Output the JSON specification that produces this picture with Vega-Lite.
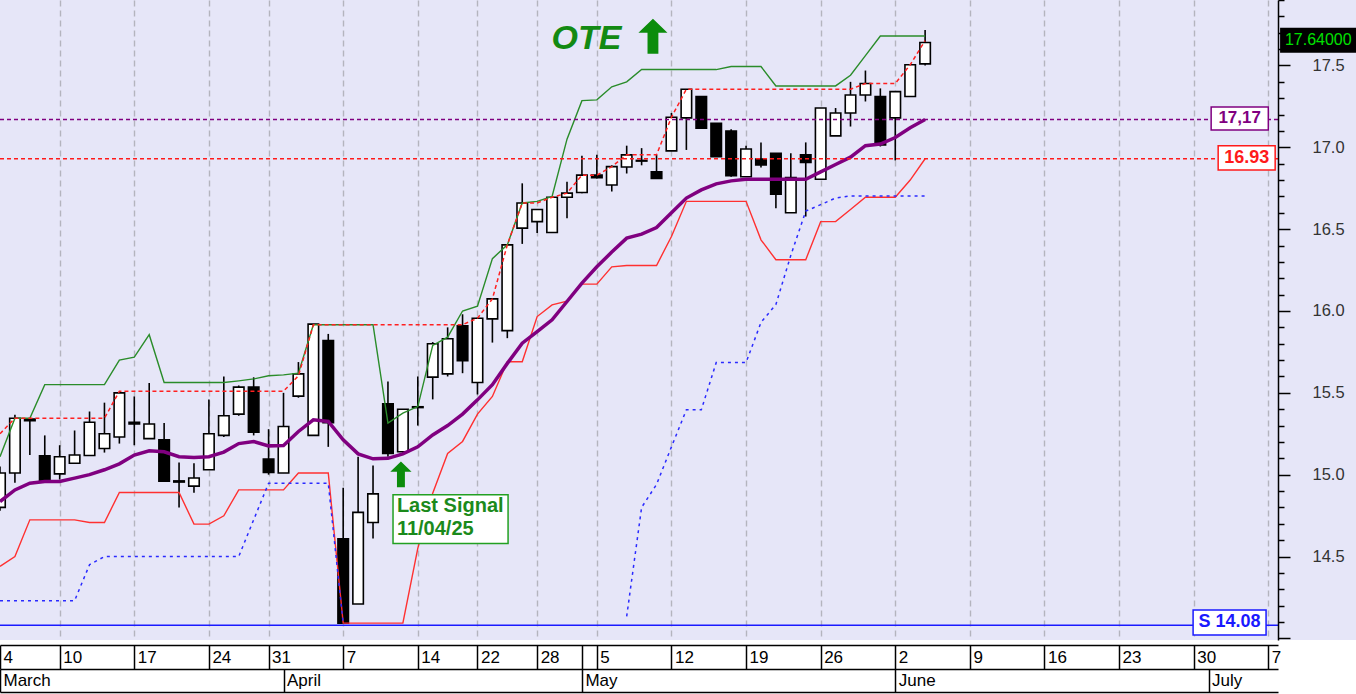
{
"$schema": "https://vega.github.io/schema/vega-lite/v6.json",
"width": 1278, "height": 640,
"autosize": {"type": "none"},
"padding": {"left": 0, "top": 0, "right": 78, "bottom": 54},
"background": "white",
"view": {"fill": "#e6e6f8", "stroke": null},
"config": {"font": "Liberation Sans"},
"datasets": {
"candles": [
{"i":0,"o":14.80,"h":15.05,"l":14.78,"c":15.01,"ma":14.836,"g":15.11,"r":14.44,"hc":15.25},
{"i":1,"o":15.01,"h":15.366,"l":14.95,"c":15.345,"ma":14.907,"g":15.345,"r":14.50,"hc":15.345},
{"i":2,"o":15.34,"h":15.347,"l":15.12,"c":15.33,"ma":14.948,"g":15.345,"r":14.724,"hc":15.345},
{"i":3,"o":15.115,"h":15.24,"l":14.96,"c":14.96,"ma":14.958,"g":15.55,"r":14.724,"hc":15.345},
{"i":4,"o":15.005,"h":15.18,"l":14.97,"c":15.11,"ma":14.958,"g":15.55,"r":14.724,"hc":15.345},
{"i":5,"o":15.07,"h":15.27,"l":15.07,"c":15.12,"ma":14.979,"g":15.55,"r":14.724,"hc":15.345},
{"i":6,"o":15.117,"h":15.386,"l":15.117,"c":15.32,"ma":15.0,"g":15.55,"r":14.708,"hc":15.345},
{"i":7,"o":15.16,"h":15.44,"l":15.135,"c":15.25,"ma":15.03,"g":15.55,"r":14.708,"hc":15.345},
{"i":8,"o":15.23,"h":15.50,"l":15.19,"c":15.50,"ma":15.066,"g":15.70,"r":14.891,"hc":15.51},
{"i":9,"o":15.32,"h":15.478,"l":15.18,"c":15.31,"ma":15.12,"g":15.718,"r":14.891,"hc":15.51},
{"i":10,"o":15.22,"h":15.56,"l":15.22,"c":15.31,"ma":15.146,"g":15.855,"r":14.891,"hc":15.51},
{"i":11,"o":15.213,"h":15.315,"l":14.96,"c":14.96,"ma":15.14,"g":15.563,"r":14.891,"hc":15.51},
{"i":12,"o":14.962,"h":15.074,"l":14.80,"c":14.955,"ma":15.11,"g":15.563,"r":14.891,"hc":15.51},
{"i":13,"o":14.93,"h":15.07,"l":14.89,"c":14.98,"ma":15.105,"g":15.563,"r":14.698,"hc":15.51},
{"i":14,"o":15.03,"h":15.46,"l":15.03,"c":15.25,"ma":15.11,"g":15.563,"r":14.698,"hc":15.51},
{"i":15,"o":15.24,"h":15.60,"l":15.23,"c":15.36,"ma":15.138,"g":15.563,"r":14.749,"hc":15.51},
{"i":16,"o":15.37,"h":15.545,"l":15.36,"c":15.535,"ma":15.19,"g":15.573,"r":14.907,"hc":15.51},
{"i":17,"o":15.535,"h":15.595,"l":15.24,"c":15.26,"ma":15.203,"g":15.585,"r":14.907,"hc":15.51},
{"i":18,"o":15.095,"h":15.278,"l":15.0,"c":15.013,"ma":15.176,"g":15.604,"r":14.907,"hc":15.51},
{"i":19,"o":15.01,"h":15.50,"l":15.01,"c":15.294,"ma":15.178,"g":15.61,"r":14.907,"hc":15.51},
{"i":20,"o":15.48,"h":15.688,"l":15.47,"c":15.616,"ma":15.264,"g":15.62,"r":15.01,"hc":15.604},
{"i":21,"o":15.24,"h":15.92,"l":15.24,"c":15.92,"ma":15.335,"g":15.916,"r":15.01,"hc":15.916},
{"i":22,"o":15.82,"h":15.86,"l":15.17,"c":15.318,"ma":15.325,"g":15.916,"r":15.01,"hc":15.916},
{"i":23,"o":14.608,"h":14.92,"l":14.09,"c":14.093,"ma":15.213,"g":15.916,"r":14.093,"hc":15.916},
{"i":24,"o":14.21,"h":15.11,"l":14.21,"c":14.77,"ma":15.127,"g":15.916,"r":14.093,"hc":15.916},
{"i":25,"o":14.708,"h":15.056,"l":14.61,"c":14.883,"ma":15.097,"g":15.916,"r":14.093,"hc":15.916},
{"i":26,"o":15.433,"h":15.57,"l":15.11,"c":15.13,"ma":15.10,"g":15.315,"r":14.093,"hc":15.916},
{"i":27,"o":15.14,"h":15.40,"l":15.12,"c":15.40,"ma":15.127,"g":15.376,"r":14.093,"hc":15.916},
{"i":28,"o":15.41,"h":15.60,"l":15.30,"c":15.415,"ma":15.17,"g":15.416,"r":14.55,"hc":15.916},
{"i":29,"o":15.596,"h":15.81,"l":15.46,"c":15.80,"ma":15.243,"g":15.79,"r":14.887,"hc":15.916},
{"i":30,"o":15.616,"h":15.90,"l":15.60,"c":15.83,"ma":15.30,"g":15.84,"r":15.13,"hc":15.916},
{"i":31,"o":15.91,"h":15.98,"l":15.62,"c":15.697,"ma":15.37,"g":16.00,"r":15.203,"hc":15.916},
{"i":32,"o":15.563,"h":15.96,"l":15.49,"c":15.956,"ma":15.457,"g":16.03,"r":15.37,"hc":15.956},
{"i":33,"o":15.952,"h":16.074,"l":15.807,"c":16.074,"ma":15.55,"g":16.32,"r":15.478,"hc":16.074},
{"i":34,"o":15.88,"h":16.404,"l":15.834,"c":16.404,"ma":15.68,"g":16.404,"r":15.69,"hc":16.404},
{"i":35,"o":16.506,"h":16.78,"l":16.41,"c":16.66,"ma":15.803,"g":16.66,"r":15.69,"hc":16.66},
{"i":36,"o":16.546,"h":16.62,"l":16.476,"c":16.62,"ma":15.874,"g":16.67,"r":15.966,"hc":16.66},
{"i":37,"o":16.48,"h":16.70,"l":16.48,"c":16.695,"ma":15.946,"g":16.70,"r":16.037,"hc":16.695},
{"i":38,"o":16.695,"h":16.79,"l":16.567,"c":16.72,"ma":16.058,"g":17.05,"r":16.06,"hc":16.72},
{"i":39,"o":16.724,"h":16.948,"l":16.72,"c":16.83,"ma":16.17,"g":17.285,"r":16.164,"hc":16.83},
{"i":40,"o":16.83,"h":16.954,"l":16.81,"c":16.815,"ma":16.27,"g":17.29,"r":16.164,"hc":16.83},
{"i":41,"o":16.77,"h":16.89,"l":16.73,"c":16.882,"ma":16.36,"g":17.37,"r":16.27,"hc":16.882},
{"i":42,"o":16.88,"h":17.01,"l":16.84,"c":16.954,"ma":16.445,"g":17.40,"r":16.278,"hc":16.954},
{"i":43,"o":16.92,"h":16.995,"l":16.89,"c":16.916,"ma":16.47,"g":17.475,"r":16.278,"hc":16.954},
{"i":44,"o":16.85,"h":16.954,"l":16.81,"c":16.81,"ma":16.51,"g":17.475,"r":16.278,"hc":16.954},
{"i":45,"o":16.978,"h":17.21,"l":16.978,"c":17.184,"ma":16.60,"g":17.475,"r":16.455,"hc":17.184},
{"i":46,"o":17.18,"h":17.355,"l":16.984,"c":17.355,"ma":16.69,"g":17.475,"r":16.67,"hc":17.355},
{"i":47,"o":17.31,"h":17.31,"l":17.117,"c":17.117,"ma":16.74,"g":17.475,"r":16.67,"hc":17.355},
{"i":48,"o":17.147,"h":17.147,"l":16.943,"c":16.943,"ma":16.777,"g":17.475,"r":16.67,"hc":17.355},
{"i":49,"o":17.10,"h":17.11,"l":16.82,"c":16.827,"ma":16.795,"g":17.494,"r":16.67,"hc":17.355},
{"i":50,"o":16.82,"h":17.01,"l":16.82,"c":16.99,"ma":16.805,"g":17.494,"r":16.67,"hc":17.355},
{"i":51,"o":16.928,"h":17.03,"l":16.876,"c":16.893,"ma":16.805,"g":17.494,"r":16.435,"hc":17.355},
{"i":52,"o":16.964,"h":16.964,"l":16.628,"c":16.714,"ma":16.805,"g":17.375,"r":16.313,"hc":17.355},
{"i":53,"o":16.60,"h":16.964,"l":16.60,"c":16.815,"ma":16.805,"g":17.375,"r":16.313,"hc":17.355},
{"i":54,"o":16.954,"h":17.03,"l":16.577,"c":16.907,"ma":16.805,"g":17.375,"r":16.313,"hc":17.355},
{"i":55,"o":16.805,"h":17.24,"l":16.805,"c":17.24,"ma":16.85,"g":17.375,"r":16.546,"hc":17.355},
{"i":56,"o":17.07,"h":17.24,"l":17.07,"c":17.21,"ma":16.895,"g":17.375,"r":16.546,"hc":17.355},
{"i":57,"o":17.21,"h":17.40,"l":17.127,"c":17.32,"ma":16.94,"g":17.44,"r":16.62,"hc":17.355},
{"i":58,"o":17.32,"h":17.469,"l":17.28,"c":17.39,"ma":17.01,"g":17.56,"r":16.695,"hc":17.39},
{"i":59,"o":17.31,"h":17.36,"l":17.005,"c":17.015,"ma":17.02,"g":17.68,"r":16.695,"hc":17.39},
{"i":60,"o":17.18,"h":17.34,"l":16.92,"c":17.34,"ma":17.06,"g":17.68,"r":16.695,"hc":17.39},
{"i":61,"o":17.31,"h":17.504,"l":17.31,"c":17.504,"ma":17.12,"g":17.68,"r":16.80,"hc":17.504},
{"i":62,"o":17.51,"h":17.717,"l":17.50,"c":17.64,"ma":17.17,"g":17.68,"r":16.93,"hc":17.652}
],
"blue": [
{"i":0,"v":14.23,"s":"a"},{"i":1,"v":14.23,"s":"a"},{"i":2,"v":14.23,"s":"a"},{"i":3,"v":14.23,"s":"a"},{"i":4,"v":14.23,"s":"a"},{"i":5,"v":14.23,"s":"a"},{"i":6,"v":14.45,"s":"a"},{"i":7,"v":14.50,"s":"a"},{"i":8,"v":14.50,"s":"a"},{"i":9,"v":14.50,"s":"a"},{"i":10,"v":14.50,"s":"a"},{"i":11,"v":14.50,"s":"a"},{"i":12,"v":14.50,"s":"a"},{"i":13,"v":14.50,"s":"a"},{"i":14,"v":14.50,"s":"a"},{"i":15,"v":14.50,"s":"a"},{"i":16,"v":14.50,"s":"a"},{"i":17,"v":14.724,"s":"a"},{"i":18,"v":14.948,"s":"a"},{"i":19,"v":14.948,"s":"a"},{"i":20,"v":14.948,"s":"a"},{"i":21,"v":14.948,"s":"a"},{"i":22,"v":14.948,"s":"a"},{"i":23,"v":14.09,"s":"a"},
{"i":42,"v":14.134,"s":"b"},{"i":43,"v":14.80,"s":"b"},{"i":44,"v":14.94,"s":"b"},{"i":45,"v":15.17,"s":"b"},{"i":46,"v":15.396,"s":"b"},{"i":47,"v":15.396,"s":"b"},{"i":48,"v":15.685,"s":"b"},{"i":49,"v":15.685,"s":"b"},{"i":50,"v":15.685,"s":"b"},{"i":51,"v":15.93,"s":"b"},{"i":52,"v":16.04,"s":"b"},{"i":53,"v":16.34,"s":"b"},{"i":54,"v":16.61,"s":"b"},{"i":55,"v":16.65,"s":"b"},{"i":56,"v":16.69,"s":"b"},{"i":57,"v":16.703,"s":"b"},{"i":58,"v":16.703,"s":"b"},{"i":59,"v":16.703,"s":"b"},{"i":60,"v":16.703,"s":"b"},{"i":61,"v":16.703,"s":"b"},{"i":62,"v":16.703,"s":"b"}
]
},
"layer": [
{"data": {"values": [{}]}, "mark": {"type": "rect", "fill": "#e6e6f8"},
 "encoding": {"x": {"datum": 85.65, "type": "quantitative", "scale": {"domain": [0, 85.65], "nice": false, "zero": false, "padding": 0}, "axis": null}, "x2": {"datum": 91}, "y": {"datum": 13.99, "type": "quantitative", "scale": {"domain": [13.99, 17.9], "nice": false, "zero": false, "padding": 0}, "axis": null}, "y2": {"datum": 17.9}}},
{"data": {"name": "candles"}, "mark": {"type": "rule", "color": "black", "strokeWidth": 1.6},
 "encoding": {
  "x": {"field": "i", "type": "quantitative", "scale": {"domain": [0, 85.65], "nice": false, "zero": false, "padding": 0},
   "axis": {"orient": "bottom", "values": [4,9,14,18,23,28,32,36,40,45,50,55,60,65,70,75,80,85], "grid": true, "gridDash": [6,4], "gridColor": "#b4b4be", "gridWidth": 1.4, "domain": false, "ticks": false, "labels": false, "title": null}},
  "y": {"field": "l", "type": "quantitative", "scale": {"domain": [13.99, 17.9], "nice": false, "zero": false, "padding": 0},
   "axis": {"orient": "right", "zindex": 1, "title": null, "grid": false,
    "values": [14.0,14.1,14.2,14.3,14.4,14.5,14.6,14.7,14.8,14.9,15.0,15.1,15.2,15.3,15.4,15.5,15.6,15.7,15.8,15.9,16.0,16.1,16.2,16.3,16.4,16.5,16.6,16.7,16.8,16.9,17.0,17.1,17.2,17.3,17.4,17.5,17.6,17.7,17.8,17.9],
    "labelExpr": "(datum.value > 14.4 && abs(datum.value*2 - round(datum.value*2)) < 0.01) ? format(datum.value, '.1f') : ''",
    "tickSize": {"condition": {"test": "abs(datum.value*2 - round(datum.value*2)) < 0.01", "value": 12}, "value": 6},
    "tickColor": "black", "tickWidth": 1.5, "domainColor": "black", "domainWidth": 1.5,
    "labelPadding": 22, "labelFontSize": 16.5, "labelColor": "#333333", "labelFont": "Liberation Sans", "labelFlush": false, "labelOverlap": false}},
  "y2": {"field": "h"}}},
{"data": {"name": "candles"}, "mark": {"type": "bar", "width": 10.5, "stroke": "black", "strokeWidth": 1.6},
 "encoding": {
  "x": {"field": "i", "type": "quantitative", "scale": {"domain": [0, 85.65], "nice": false, "zero": false, "padding": 0},
   "axis": {"orient": "bottom", "offset": 5, "title": null, "grid": false,
    "values": [0,4,9,14,18,23,28,32,36,39,40,45,50,55,60,65,70,75,80,85],
    "labelExpr": "['4','10','17','24','31','7','14','22','28','','5','12','19','26','2','9','16','23','30','7'][indexof([0,4,9,14,18,23,28,32,36,39,40,45,50,55,60,65,70,75,80,85], datum.value)]",
    "tickSize": 24, "tickColor": "black", "tickWidth": 1.5, "domainColor": "black", "domainWidth": 1.5,
    "labelAlign": "left", "labelBaseline": "top", "labelPadding": -20, "labelOffset": 3, "labelFontSize": 17, "labelColor": "black", "labelFont": "Liberation Sans", "labelFlush": false, "labelOverlap": false}},
  "y": {"field": "o", "type": "quantitative", "scale": {"domain": [13.99, 17.9], "nice": false, "zero": false, "padding": 0}, "axis": null},
  "y2": {"field": "c"},
  "fill": {"condition": {"test": "datum.c >= datum.o", "value": "white"}, "value": "black"}}},
{"data": {"name": "candles"}, "mark": {"type": "line", "color": "#2a8c2a", "strokeWidth": 1.4},
 "encoding": {
  "x": {"field": "i", "type": "quantitative", "scale": {"domain": [0, 85.65], "nice": false, "zero": false, "padding": 0},
   "axis": {"orient": "bottom", "offset": 52, "title": null, "grid": false, "values": [], "ticks": false, "labels": false, "domainColor": "black", "domainWidth": 1.5}},
  "y": {"field": "g", "type": "quantitative", "scale": {"domain": [13.99, 17.9], "nice": false, "zero": false, "padding": 0}, "axis": null}}},
{"data": {"name": "candles"}, "mark": {"type": "line", "color": "#ff3030", "strokeWidth": 1.4},
 "encoding": {
  "x": {"field": "i", "type": "quantitative", "scale": {"domain": [0, 85.65], "nice": false, "zero": false, "padding": 0}, "axis": null},
  "y": {"field": "r", "type": "quantitative", "scale": {"domain": [13.99, 17.9], "nice": false, "zero": false, "padding": 0}, "axis": null}}},
{"data": {"name": "candles"}, "mark": {"type": "line", "color": "#ff2020", "strokeWidth": 1.5, "strokeDash": [4, 3]},
 "encoding": {
  "x": {"field": "i", "type": "quantitative", "scale": {"domain": [0, 85.65], "nice": false, "zero": false, "padding": 0}, "axis": null},
  "y": {"field": "hc", "type": "quantitative", "scale": {"domain": [13.99, 17.9], "nice": false, "zero": false, "padding": 0}, "axis": null}}},
{"data": {"name": "blue"}, "mark": {"type": "line", "color": "#2a2aff", "strokeWidth": 1.5, "strokeDash": [3, 4]},
 "encoding": {
  "x": {"field": "i", "type": "quantitative", "scale": {"domain": [0, 85.65], "nice": false, "zero": false, "padding": 0}, "axis": null},
  "y": {"field": "v", "type": "quantitative", "scale": {"domain": [13.99, 17.9], "nice": false, "zero": false, "padding": 0}, "axis": null},
  "detail": {"field": "s", "type": "nominal"}}},
{"data": {"name": "candles"}, "mark": {"type": "line", "color": "#800080", "strokeWidth": 3.5},
 "encoding": {
  "x": {"field": "i", "type": "quantitative", "scale": {"domain": [0, 85.65], "nice": false, "zero": false, "padding": 0},
   "axis": {"orient": "bottom", "offset": 29, "title": null, "grid": false, "values": [0,19,39,60,81],
    "labelExpr": "['March','April','May','June','July'][indexof([0,19,39,60,81], datum.value)]",
    "tickSize": 23, "tickColor": "black", "tickWidth": 1.5, "domainColor": "black", "domainWidth": 1.5,
    "labelAlign": "left", "labelBaseline": "top", "labelPadding": -20, "labelOffset": 3, "labelFontSize": 17, "labelColor": "black", "labelFont": "Liberation Sans", "labelFlush": false, "labelOverlap": false}},
  "y": {"field": "ma", "type": "quantitative", "scale": {"domain": [13.99, 17.9], "nice": false, "zero": false, "padding": 0}, "axis": null}}},
{"data": {"values": [{}]}, "mark": {"type": "rule", "color": "#800080", "strokeWidth": 1.3, "strokeDash": [4, 3]},
 "encoding": {"y": {"datum": 17.17, "type": "quantitative", "scale": {"domain": [13.99, 17.9], "nice": false, "zero": false, "padding": 0}, "axis": null}}},
{"data": {"values": [{}]}, "mark": {"type": "rule", "color": "#ff1a1a", "strokeWidth": 1.5, "strokeDash": [4, 3]},
 "encoding": {"y": {"datum": 16.93, "type": "quantitative", "scale": {"domain": [13.99, 17.9], "nice": false, "zero": false, "padding": 0}, "axis": null}}},
{"data": {"values": [{}]}, "mark": {"type": "rule", "color": "#1a1aff", "strokeWidth": 1.5},
 "encoding": {"y": {"datum": 14.08, "type": "quantitative", "scale": {"domain": [13.99, 17.9], "nice": false, "zero": false, "padding": 0}, "axis": null}}},
{"data": {"values": [{}]}, "mark": {"type": "rect", "fill": "white", "stroke": "#800080", "strokeWidth": 1.5},
 "encoding": {"x": {"datum": 81.17, "type": "quantitative", "scale": {"domain": [0, 85.65], "nice": false, "zero": false, "padding": 0}, "axis": null}, "x2": {"datum": 85.0}, "y": {"datum": 17.247, "type": "quantitative", "scale": {"domain": [13.99, 17.9], "nice": false, "zero": false, "padding": 0}, "axis": null}, "y2": {"datum": 17.106}}},
{"data": {"values": [{}]}, "mark": {"type": "rect", "fill": "white", "stroke": "#ff1a1a", "strokeWidth": 1.5},
 "encoding": {"x": {"datum": 81.64, "type": "quantitative", "scale": {"domain": [0, 85.65], "nice": false, "zero": false, "padding": 0}, "axis": null}, "x2": {"datum": 85.46}, "y": {"datum": 17.009, "type": "quantitative", "scale": {"domain": [13.99, 17.9], "nice": false, "zero": false, "padding": 0}, "axis": null}, "y2": {"datum": 16.862}}},
{"data": {"values": [{}]}, "mark": {"type": "rect", "fill": "white", "stroke": "#1a1aff", "strokeWidth": 1.5},
 "encoding": {"x": {"datum": 79.96, "type": "quantitative", "scale": {"domain": [0, 85.65], "nice": false, "zero": false, "padding": 0}, "axis": null}, "x2": {"datum": 84.85}, "y": {"datum": 14.174, "type": "quantitative", "scale": {"domain": [13.99, 17.9], "nice": false, "zero": false, "padding": 0}, "axis": null}, "y2": {"datum": 14.02}}},
{"data": {"values": [{}]}, "mark": {"type": "rect", "fill": "black"},
 "encoding": {"x": {"datum": 85.79, "type": "quantitative", "scale": {"domain": [0, 85.65], "nice": false, "zero": false, "padding": 0}, "axis": null}, "x2": {"datum": 90.9}, "y": {"datum": 17.73, "type": "quantitative", "scale": {"domain": [13.99, 17.9], "nice": false, "zero": false, "padding": 0}, "axis": null}, "y2": {"datum": 17.577}}},
{"data": {"values": [{}]}, "mark": {"type": "rect", "fill": "white", "stroke": "#22a022", "strokeWidth": 1.5},
 "encoding": {"x": {"datum": 26.34, "type": "quantitative", "scale": {"domain": [0, 85.65], "nice": false, "zero": false, "padding": 0}, "axis": null}, "x2": {"datum": 34.05}, "y": {"datum": 14.877, "type": "quantitative", "scale": {"domain": [13.99, 17.9], "nice": false, "zero": false, "padding": 0}, "axis": null}, "y2": {"datum": 14.58}}},
{"data": {"values": [{"t": "17,17"}]}, "mark": {"type": "text", "color": "#800080", "fontWeight": "bold", "fontSize": 17, "align": "center", "baseline": "middle"},
 "encoding": {"text": {"field": "t"}, "x": {"datum": 83.08, "type": "quantitative", "scale": {"domain": [0, 85.65], "nice": false, "zero": false, "padding": 0}, "axis": null}, "y": {"datum": 17.177, "type": "quantitative", "scale": {"domain": [13.99, 17.9], "nice": false, "zero": false, "padding": 0}, "axis": null}}},
{"data": {"values": [{"t": "16.93"}]}, "mark": {"type": "text", "color": "#ff1a1a", "fontWeight": "bold", "fontSize": 18, "align": "center", "baseline": "middle"},
 "encoding": {"text": {"field": "t"}, "x": {"datum": 83.55, "type": "quantitative", "scale": {"domain": [0, 85.65], "nice": false, "zero": false, "padding": 0}, "axis": null}, "y": {"datum": 16.935, "type": "quantitative", "scale": {"domain": [13.99, 17.9], "nice": false, "zero": false, "padding": 0}, "axis": null}}},
{"data": {"values": [{"t": "S 14.08"}]}, "mark": {"type": "text", "color": "#1a1aff", "fontWeight": "bold", "fontSize": 18, "align": "center", "baseline": "middle"},
 "encoding": {"text": {"field": "t"}, "x": {"datum": 82.4, "type": "quantitative", "scale": {"domain": [0, 85.65], "nice": false, "zero": false, "padding": 0}, "axis": null}, "y": {"datum": 14.097, "type": "quantitative", "scale": {"domain": [13.99, 17.9], "nice": false, "zero": false, "padding": 0}, "axis": null}}},
{"data": {"values": [{"t": "17.64000"}]}, "mark": {"type": "text", "color": "#00e000", "fontSize": 16, "align": "center", "baseline": "middle"},
 "encoding": {"text": {"field": "t"}, "x": {"datum": 88.35, "type": "quantitative", "scale": {"domain": [0, 85.65], "nice": false, "zero": false, "padding": 0}, "axis": null}, "y": {"datum": 17.655, "type": "quantitative", "scale": {"domain": [13.99, 17.9], "nice": false, "zero": false, "padding": 0}, "axis": null}}},
{"data": {"values": [{"t": "OTE"}]}, "mark": {"type": "text", "color": "#138a13", "fontWeight": "bold", "fontStyle": "italic", "fontSize": 34, "align": "center", "baseline": "alphabetic"},
 "encoding": {"text": {"field": "t"}, "x": {"datum": 39.31, "type": "quantitative", "scale": {"domain": [0, 85.65], "nice": false, "zero": false, "padding": 0}, "axis": null}, "y": {"datum": 17.598, "type": "quantitative", "scale": {"domain": [13.99, 17.9], "nice": false, "zero": false, "padding": 0}, "axis": null}}},
{"data": {"values": [{"t": "Last Signal"}]}, "mark": {"type": "text", "color": "#1b8a1b", "fontWeight": "bold", "fontSize": 20, "align": "left", "baseline": "top"},
 "encoding": {"text": {"field": "t"}, "x": {"datum": 26.6, "type": "quantitative", "scale": {"domain": [0, 85.65], "nice": false, "zero": false, "padding": 0}, "axis": null},
  "y": {"datum": 14.868, "type": "quantitative", "scale": {"domain": [13.99, 17.9], "nice": false, "zero": false, "padding": 0}, "axis": null}}},
{"data": {"values": [{"t": "11/04/25"}]}, "mark": {"type": "text", "color": "#1b8a1b", "fontWeight": "bold", "fontSize": 20, "align": "left", "baseline": "top"},
 "encoding": {"text": {"field": "t"}, "x": {"datum": 26.6, "type": "quantitative", "scale": {"domain": [0, 85.65], "nice": false, "zero": false, "padding": 0}, "axis": null},
  "y": {"datum": 14.728, "type": "quantitative", "scale": {"domain": [13.99, 17.9], "nice": false, "zero": false, "padding": 0}, "axis": null}}},
{"data": {"values": [{}]}, "mark": {"type": "point", "shape": "M0,-1L0.83,-0.2L0.31,-0.2L0.31,1L-0.31,1L-0.31,-0.2L-0.83,-0.2Z", "filled": true, "color": "#0c8c0c", "opacity": 1, "size": 1225},
 "encoding": {"x": {"datum": 43.76, "type": "quantitative", "scale": {"domain": [0, 85.65], "nice": false, "zero": false, "padding": 0}, "axis": null}, "y": {"datum": 17.678, "type": "quantitative", "scale": {"domain": [13.99, 17.9], "nice": false, "zero": false, "padding": 0}, "axis": null}}},
{"data": {"values": [{}]}, "mark": {"type": "point", "shape": "M0,-1L0.83,-0.2L0.31,-0.2L0.31,1L-0.31,1L-0.31,-0.2L-0.83,-0.2Z", "filled": true, "color": "#0c8c0c", "opacity": 1, "size": 655},
 "encoding": {"x": {"datum": 26.87, "type": "quantitative", "scale": {"domain": [0, 85.65], "nice": false, "zero": false, "padding": 0}, "axis": null}, "y": {"datum": 15.002, "type": "quantitative", "scale": {"domain": [13.99, 17.9], "nice": false, "zero": false, "padding": 0}, "axis": null}}}
],
"resolve": {"axis": {"x": "independent", "y": "independent"}}
}
